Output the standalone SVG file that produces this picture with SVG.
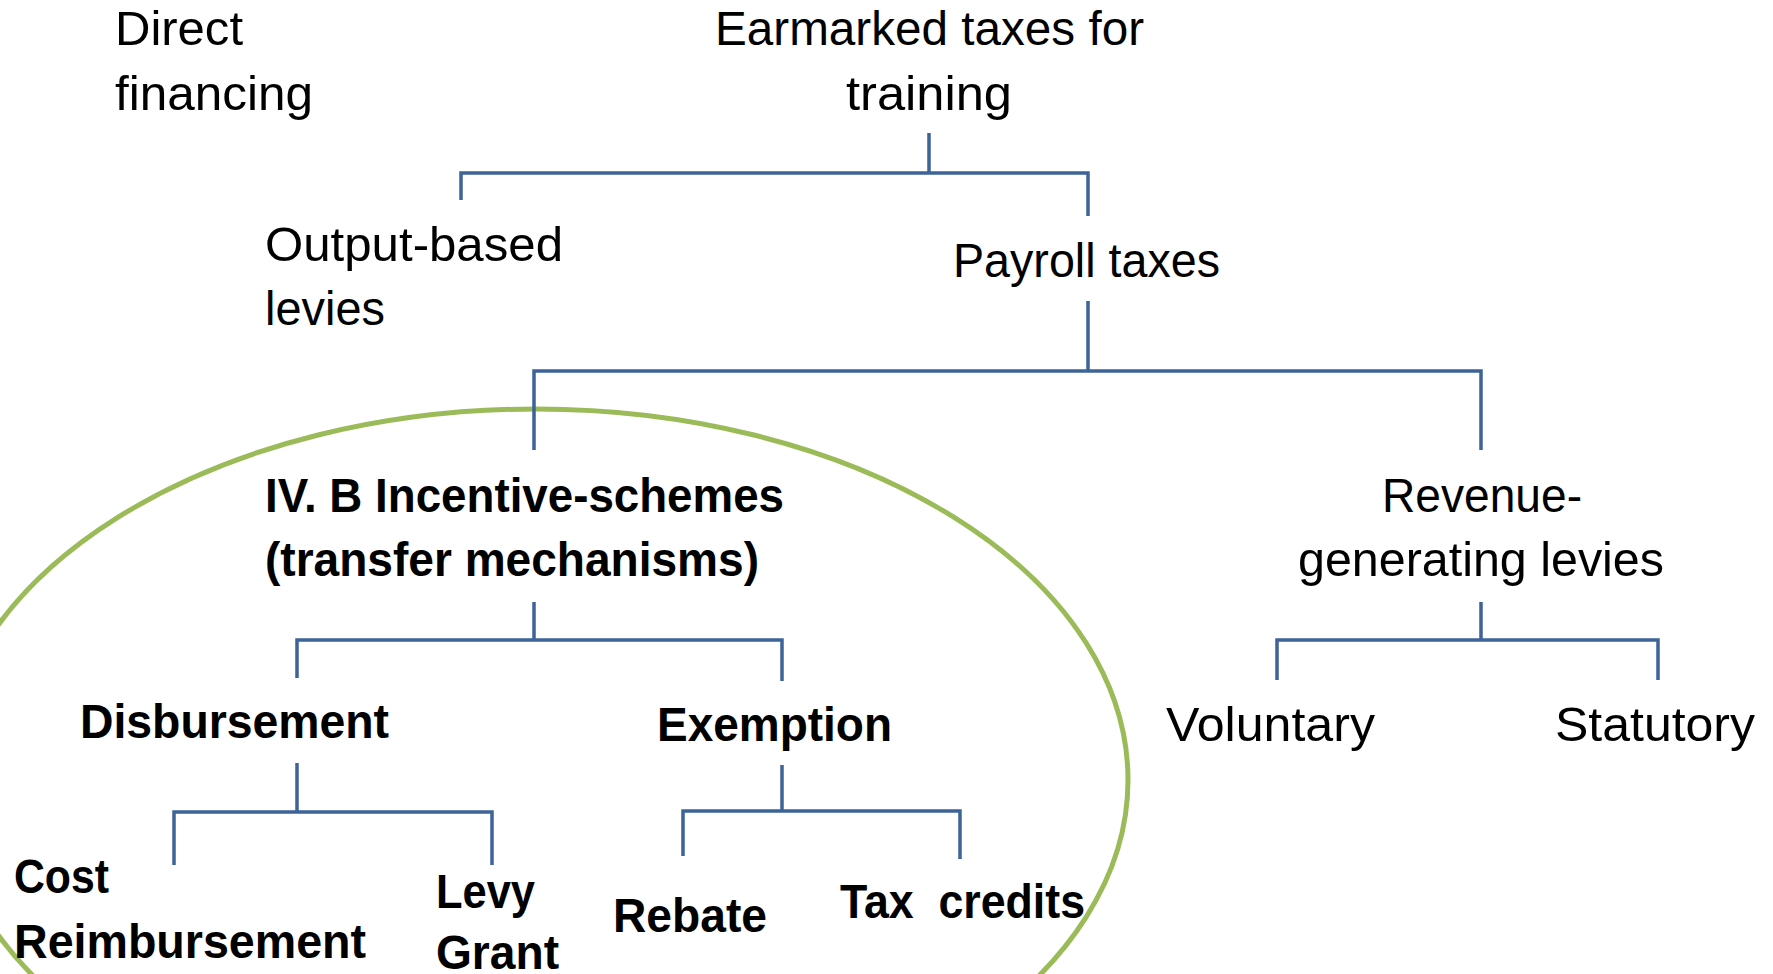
<svg xmlns="http://www.w3.org/2000/svg" width="1773" height="974" viewBox="0 0 1773 974">
  <style>
    .t { font-family: "Liberation Sans", Arial, sans-serif; font-size: 48px; fill: #000; }
    .b { font-weight: bold; }
    .c { fill: none; stroke: #3D6498; stroke-width: 3.5; stroke-linecap: butt; }
    .ring { fill: none; stroke: #9BBB59; stroke-width: 5; }
  </style>
  <rect width="1773" height="974" fill="#fff"/>

  <!-- highlight around the incentive-scheme branch -->
  <ellipse class="ring" cx="536" cy="780" rx="592" ry="371"/>

  <g id="connectors">
    <!-- Earmarked taxes -> Output-based / Payroll -->
    <path class="c" d="M929 133 V173 M461 200 V173 H1088 V216"/>
    <!-- Payroll taxes -> Incentive / Revenue -->
    <path class="c" d="M1088 301 V371 M534 450 V371 H1481 V450"/>
    <!-- Incentive schemes -> Disbursement / Exemption -->
    <path class="c" d="M534 602 V640 M297 678 V640 H782 V681"/>
    <!-- Disbursement -> Cost Reimbursement / Levy Grant -->
    <path class="c" d="M297 763 V812 M174 865 V812 H492 V865"/>
    <!-- Exemption -> Rebate / Tax credits -->
    <path class="c" d="M782 765 V811 M683 856 V811 H960 V859"/>
    <!-- Revenue-generating levies -> Voluntary / Statutory -->
    <path class="c" d="M1481 602 V640 M1277 680 V640 H1658 V680"/>
  </g>

  <g id="direct-financing">
    <text class="t" x="115" y="45" textLength="128" lengthAdjust="spacingAndGlyphs">Direct</text>
    <text class="t" x="115" y="110" textLength="198" lengthAdjust="spacingAndGlyphs">financing</text>
  </g>
  <g id="earmarked-taxes">
    <text class="t" x="715" y="45" textLength="429" lengthAdjust="spacingAndGlyphs">Earmarked taxes for</text>
    <text class="t" x="846" y="110" textLength="166" lengthAdjust="spacingAndGlyphs">training</text>
  </g>
  <g id="output-based">
    <text class="t" x="265" y="261" textLength="298" lengthAdjust="spacingAndGlyphs">Output-based</text>
    <text class="t" x="265" y="325" textLength="120" lengthAdjust="spacingAndGlyphs">levies</text>
  </g>
  <g id="payroll-taxes">
    <text class="t" x="953" y="277" textLength="267" lengthAdjust="spacingAndGlyphs">Payroll taxes</text>
  </g>
  <g id="incentive-schemes">
    <text class="t b" x="265" y="512" textLength="519" lengthAdjust="spacingAndGlyphs">IV. B Incentive-schemes</text>
    <text class="t b" x="265" y="576" textLength="494" lengthAdjust="spacingAndGlyphs">(transfer mechanisms)</text>
  </g>
  <g id="revenue-generating">
    <text class="t" x="1382" y="512" textLength="200" lengthAdjust="spacingAndGlyphs">Revenue-</text>
    <text class="t" x="1298" y="576" textLength="366" lengthAdjust="spacingAndGlyphs">generating levies</text>
  </g>
  <g id="disbursement">
    <text class="t b" x="80" y="738" textLength="309" lengthAdjust="spacingAndGlyphs">Disbursement</text>
  </g>
  <g id="exemption">
    <text class="t b" x="657" y="741" textLength="235" lengthAdjust="spacingAndGlyphs">Exemption</text>
  </g>
  <g id="voluntary">
    <text class="t" x="1166" y="741" textLength="209" lengthAdjust="spacingAndGlyphs">Voluntary</text>
  </g>
  <g id="statutory">
    <text class="t" x="1555" y="741" textLength="200" lengthAdjust="spacingAndGlyphs">Statutory</text>
  </g>
  <g id="cost-reimbursement">
    <text class="t b" x="14" y="893" textLength="95" lengthAdjust="spacingAndGlyphs">Cost</text>
    <text class="t b" x="14" y="958" textLength="352" lengthAdjust="spacingAndGlyphs">Reimbursement</text>
  </g>
  <g id="levy-grant">
    <text class="t b" x="436" y="908" textLength="99" lengthAdjust="spacingAndGlyphs">Levy</text>
    <text class="t b" x="436" y="969" textLength="123" lengthAdjust="spacingAndGlyphs">Grant</text>
  </g>
  <g id="rebate">
    <text class="t b" x="613" y="932" textLength="154" lengthAdjust="spacingAndGlyphs">Rebate</text>
  </g>
  <g id="tax-credits">
    <text class="t b" x="840" y="918" textLength="245" lengthAdjust="spacingAndGlyphs" xml:space="preserve">Tax  credits</text>
  </g>
</svg>
